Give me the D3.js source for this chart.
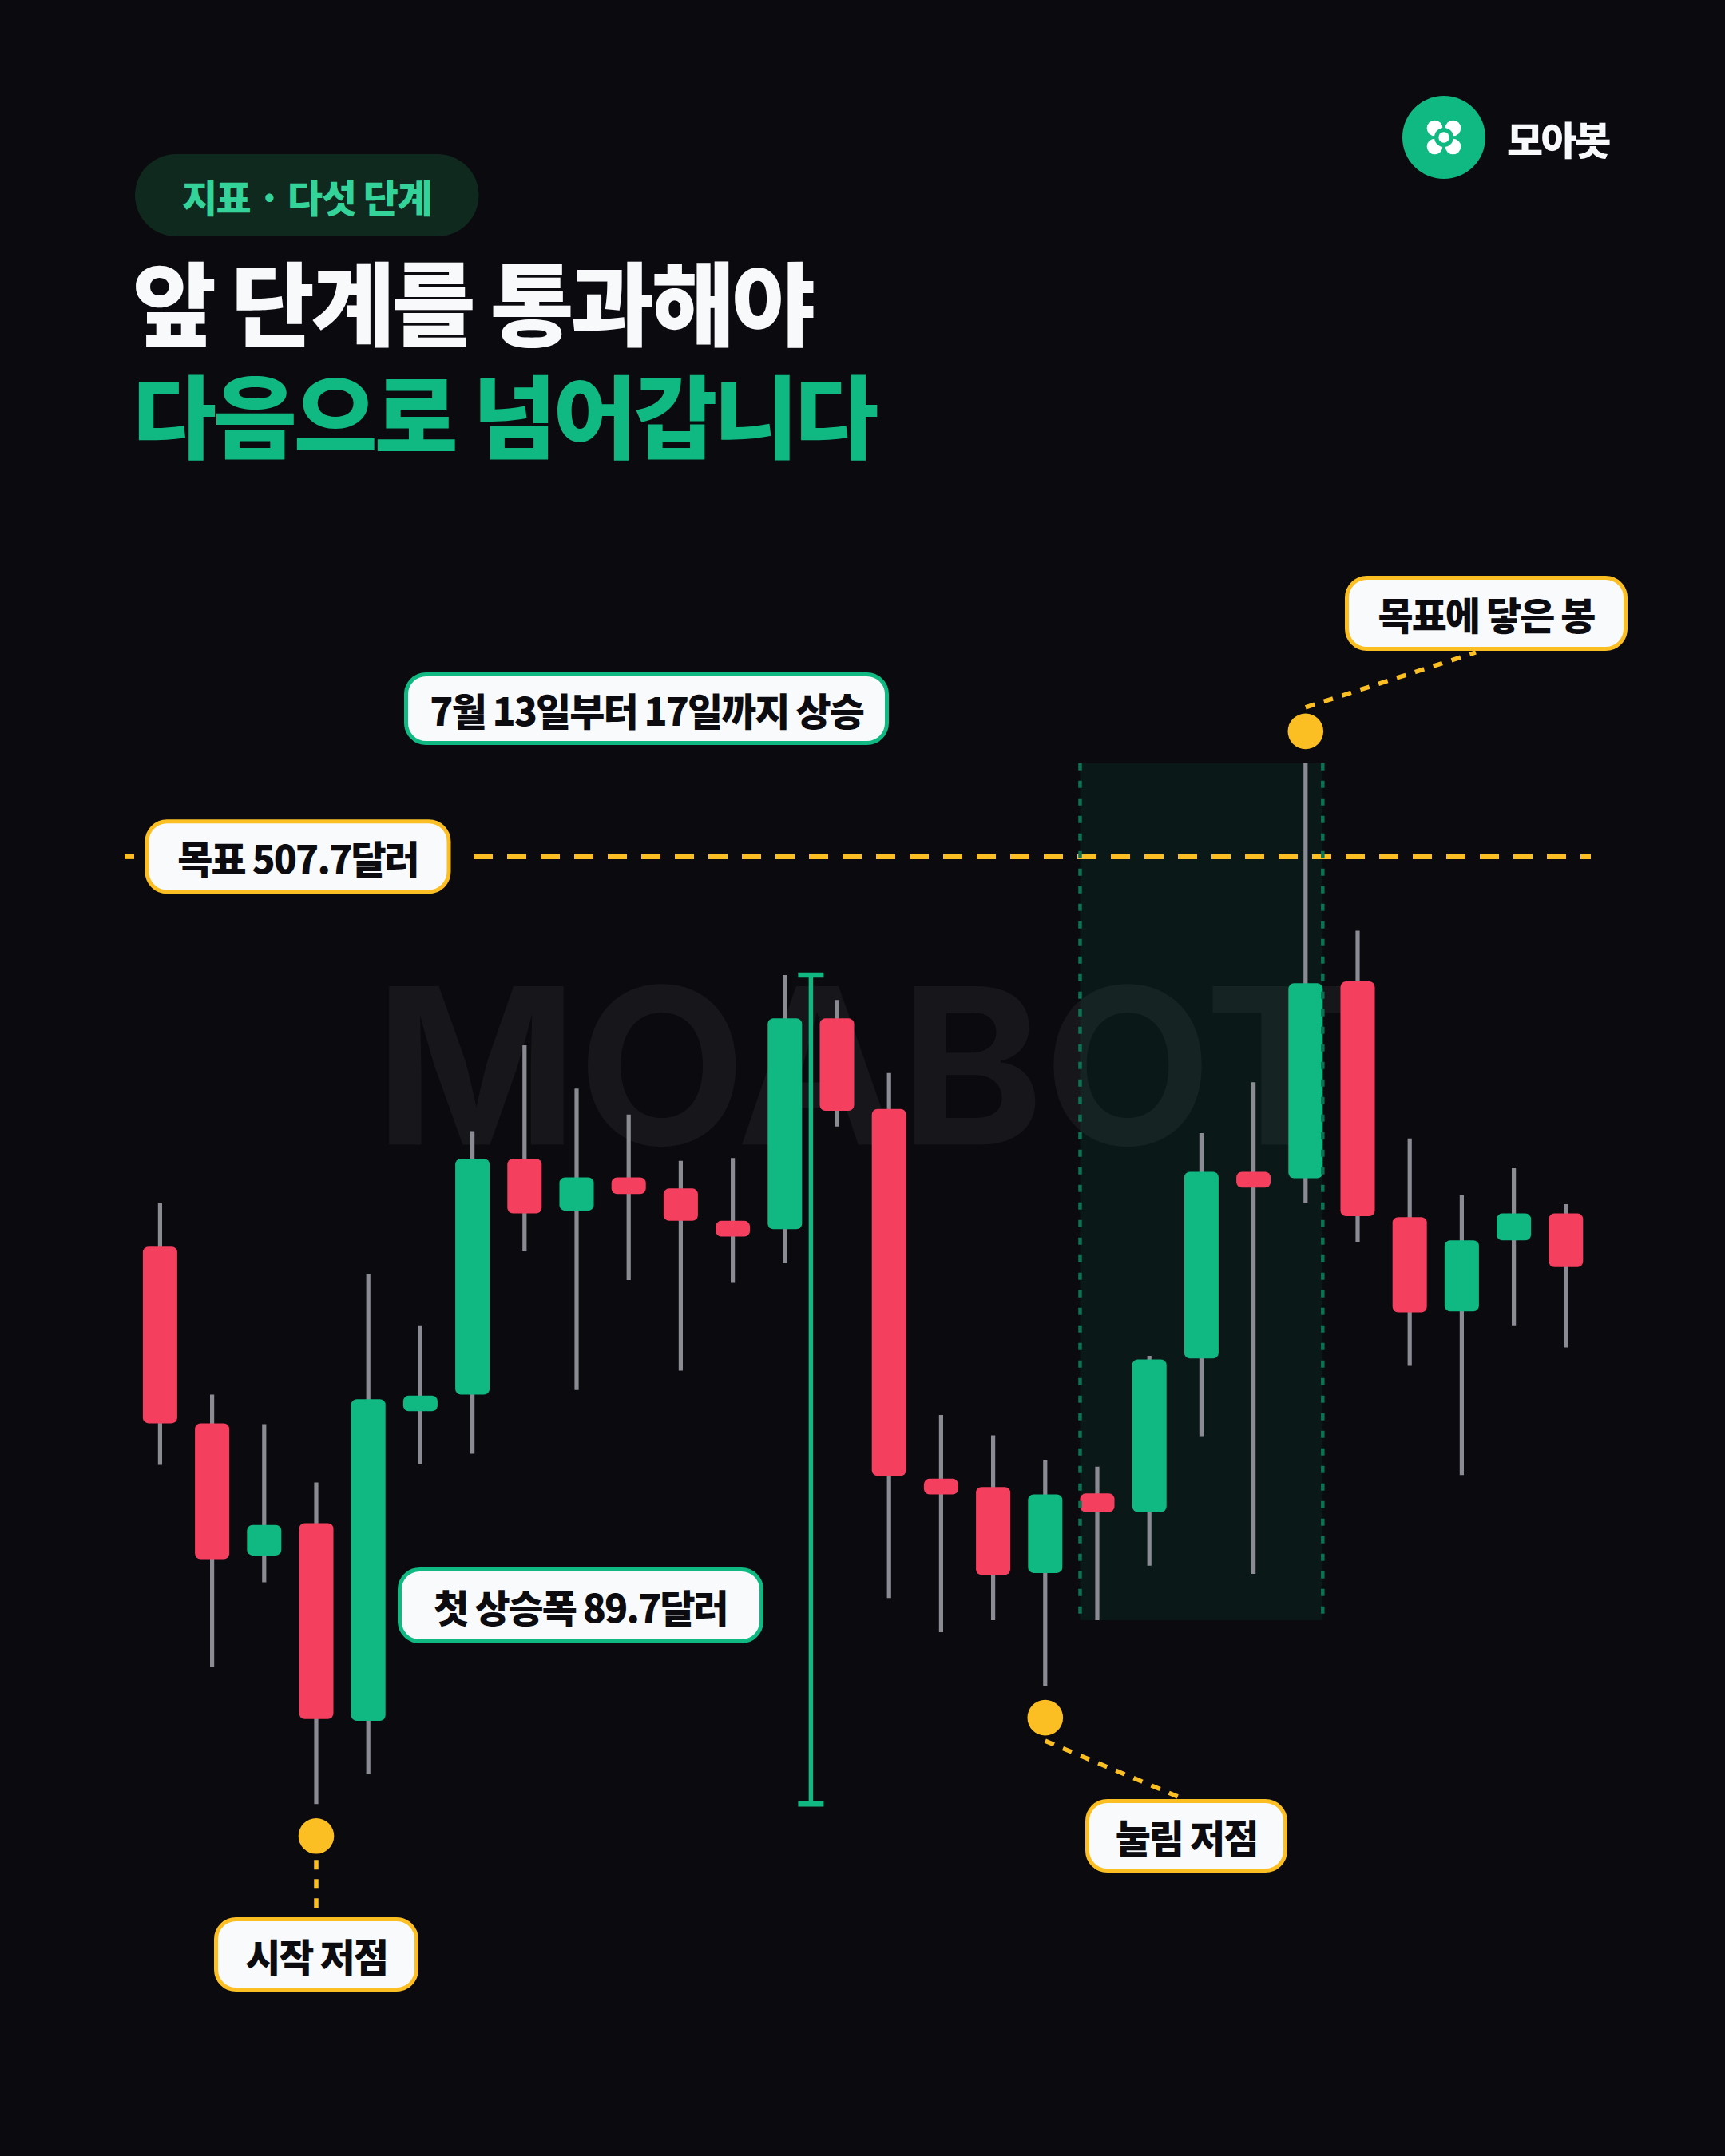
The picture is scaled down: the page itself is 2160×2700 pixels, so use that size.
<!DOCTYPE html>
<html>
<head>
<meta charset="utf-8">
<script src="https://cdn.jsdelivr.net/npm/d3@7/dist/d3.min.js"></script>
<style>
  html, body { margin: 0; padding: 0; background: #0a0a0f; }
  svg { display: block; }
</style>
</head>
<body>
<div id="chart"></div>
<script>
// ---------------- DATA ----------------
const categories = ["D1","D2","D3","D4","D5","D6","D7","D8","D9","D10","D11","D12","D13","D14",
                    "D15","D16","D17","D18","D19","D20","D21","D22","D23","D24","D25","D26","D27","D28"];
const opens  = [465.5, 446.4, 432.1, 435.6, 414.2, 447.7, 449.5, 475.0, 469.4, 473.0, 471.8, 468.3, 467.4, 490.2,
                480.4, 440.4, 439.5, 430.2, 438.8, 436.8, 453.4, 473.6, 472.9, 494.2, 468.7, 458.5, 466.2, 469.1];
const highs  = [470.2, 449.5, 446.3, 440.0, 462.5, 457.0, 478.0, 487.3, 482.6, 479.8, 474.8, 475.1, 494.9, 492.2,
                484.3, 447.3, 445.1, 442.4, 441.7, 453.7, 477.8, 483.3, 517.8, 499.7, 477.2, 471.1, 474.0, 470.1];
const lows   = [441.9, 420.0, 429.2, 405.2, 408.5, 442.0, 443.1, 465.0, 450.0, 461.9, 452.1, 461.6, 463.7, 478.5,
                427.5, 423.8, 425.1, 418.0, 425.1, 431.0, 445.0, 430.1, 470.2, 466.0, 452.6, 440.8, 457.0, 454.6];
const closes = [446.4, 431.7, 435.4, 414.4, 449.0, 449.4, 475.0, 469.1, 473.0, 471.2, 468.3, 466.6, 490.2, 480.2,
                440.7, 438.7, 430.0, 438.7, 436.8, 453.3, 473.6, 471.9, 494.0, 468.8, 458.4, 466.2, 469.1, 463.3];

const priceDomain = [400, 520];

// key candles (indices into categories)
const startIdx = 3;     // 시작 저점
const peakIdx = 12;     // 첫 상승 고점
const pullIdx = 17;     // 눌림 저점
const hitIdx = 22;      // 목표에 닿은 봉
const bandFrom = 18, bandTo = 22;

const tagText = "지표 · 다섯 단계";
const titleLines = ["앞 단계를 통과해야", "다음으로 넘어갑니다"];
const brandText = "모아봇";
const watermarkText = "MOABOT";

// ---------------- SETUP ----------------
const W = 2160, H = 2700;
const C = {
  bg: "#0a0a0f", green: "#10b981", red: "#f43f5e", wick: "#8b8b94",
  yellow: "#fbbf24", labelFill: "#f8fafc", ink: "#0b0b10"
};
const FONT = "'Noto Sans CJK KR', 'Noto Sans', sans-serif";

const svg = d3.select("#chart").append("svg")
  .attr("width", W).attr("height", H).attr("viewBox", `0 0 ${W} ${H}`);

svg.append("rect").attr("width", W).attr("height", H).attr("fill", C.bg);

const x = d3.scalePoint().domain(categories).range([200.4, 1960.8]);
const y = d3.scaleLinear().domain(priceDomain).range([2319.5, 930.4]);
const step = x.step();
const bw = step * 0.66;

const rise = +(highs[peakIdx] - lows[startIdx]).toFixed(1);
const target = +(lows[pullIdx] + rise).toFixed(1);

// ---------------- WATERMARK ----------------
svg.append("text")
  .attr("x", 1080).attr("y", 1433.5)
  .attr("text-anchor", "middle")
  .attr("font-family", "Inter, 'Liberation Sans', sans-serif")
  .attr("font-weight", 700).attr("font-size", 273)
  .attr("fill", "#ffffff").attr("fill-opacity", 0.05)
  .text(watermarkText);

// ---------------- HIGHLIGHT BAND ----------------
const bx0 = x(categories[bandFrom]) - bw / 2;
const bx1 = x(categories[bandTo]) + bw / 2;
const by0 = y(d3.max(highs.slice(bandFrom, bandTo + 1)));
const by1 = y(d3.min(lows.slice(bandFrom, bandTo + 1)));
svg.append("rect")
  .attr("x", bx0).attr("y", by0).attr("width", bx1 - bx0).attr("height", by1 - by0)
  .attr("fill", C.green).attr("fill-opacity", 0.085);

// ---------------- TARGET LINE ----------------
const ty = y(target);
svg.append("line").attr("x1", 156).attr("x2", 168).attr("y1", ty).attr("y2", ty)
  .attr("stroke", C.yellow).attr("stroke-width", 6.2);
svg.append("line").attr("x1", 593).attr("x2", 1992).attr("y1", ty).attr("y2", ty)
  .attr("stroke", C.yellow).attr("stroke-width", 6.2).attr("stroke-dasharray", "24 18");

// ---------------- BRACKET (first rise) ----------------
const brX = x(categories[peakIdx]) + step / 2;
const brTop = y(highs[peakIdx]), brBot = y(lows[startIdx]);
const br = svg.append("g").attr("stroke", C.green).attr("stroke-width", 5.5);
br.append("line").attr("x1", brX).attr("x2", brX).attr("y1", brTop).attr("y2", brBot);
br.append("line").attr("x1", brX - 16).attr("x2", brX + 16).attr("y1", brTop).attr("y2", brTop).attr("stroke-width", 6.5);
br.append("line").attr("x1", brX - 16).attr("x2", brX + 16).attr("y1", brBot).attr("y2", brBot).attr("stroke-width", 6.5);

// ---------------- CANDLES ----------------
const candles = categories.map((c, i) => ({ c, o: opens[i], h: highs[i], l: lows[i], cl: closes[i] }));
const cg = svg.append("g");
cg.selectAll("line.wick").data(candles).join("line").attr("class", "wick")
  .attr("x1", d => x(d.c)).attr("x2", d => x(d.c))
  .attr("y1", d => y(d.h)).attr("y2", d => y(d.l))
  .attr("stroke", C.wick).attr("stroke-width", 5.2);
cg.selectAll("rect.body").data(candles).join("rect").attr("class", "body")
  .attr("x", d => x(d.c) - bw / 2).attr("width", bw)
  .attr("y", d => y(Math.max(d.o, d.cl)))
  .attr("height", d => Math.max(4, Math.abs(y(d.o) - y(d.cl))))
  .attr("rx", 7).attr("ry", 7)
  .attr("fill", d => d.cl >= d.o ? C.green : C.red);

// band dashed edges (above candles)
svg.selectAll("line.bandEdge").data([bx0, bx1]).join("line").attr("class", "bandEdge")
  .attr("x1", d => d).attr("x2", d => d).attr("y1", by0).attr("y2", by1)
  .attr("stroke", "#0c7352").attr("stroke-width", 4.5).attr("stroke-dasharray", "9 13");

// ---------------- DOTS & CONNECTORS ----------------
const dots = [
  { cx: x(categories[startIdx]), cy: y(lows[startIdx]) + 40 },
  { cx: x(categories[pullIdx]), cy: y(lows[pullIdx]) + 40 },
  { cx: x(categories[hitIdx]), cy: y(highs[hitIdx]) - 40 }
];
const connectors = [
  { x1: dots[0].cx, y1: dots[0].cy + 30, x2: dots[0].cx, y2: 2392 },
  { x1: dots[1].cx, y1: dots[1].cy + 29, x2: 1475, y2: 2250 },
  { x1: dots[2].cx, y1: dots[2].cy - 30, x2: 1848, y2: 817 }
];
svg.selectAll("line.conn").data(connectors).join("line").attr("class", "conn")
  .attr("x1", d => d.x1).attr("y1", d => d.y1).attr("x2", d => d.x2).attr("y2", d => d.y2)
  .attr("stroke", C.yellow).attr("stroke-width", 5.5).attr("stroke-dasharray", "12 12");
svg.selectAll("circle.dot").data(dots).join("circle").attr("class", "dot")
  .attr("cx", d => d.cx).attr("cy", d => d.cy).attr("r", 22.3).attr("fill", C.yellow);

// ---------------- LABELS ----------------
const annotations = [
  { text: "7월 13일부터 17일까지 상승", cx: 809.5, cy: 887.5, w: 607, h: 91, color: C.green },
  { text: `목표 ${target.toFixed(1)}달러`, cx: 373, cy: ty, w: 383, h: 93, color: C.yellow },
  { text: "목표에 닿은 봉", cx: 1861, cy: 768, w: 354, h: 94, color: C.yellow },
  { text: `첫 상승폭 ${rise.toFixed(1)}달러`, cx: 727, cy: 2010.5, w: 458, h: 95, color: C.green },
  { text: "눌림 저점", cx: 1485.5, cy: 2299, w: 253, h: 92, color: C.yellow },
  { text: "시작 저점", cx: x(categories[startIdx]), cy: 2447.5, w: 256, h: 93, color: C.yellow }
];
const lg = svg.selectAll("g.label").data(annotations).join("g").attr("class", "label")
  .attr("transform", d => `translate(${d.cx},${d.cy})`);
lg.append("rect")
  .attr("x", d => -d.w / 2 + 2.5).attr("y", d => -d.h / 2 + 2.5)
  .attr("width", d => d.w - 5).attr("height", d => d.h - 5)
  .attr("rx", 25).attr("ry", 25)
  .attr("fill", C.labelFill).attr("stroke", d => d.color).attr("stroke-width", 5);
lg.append("text")
  .attr("text-anchor", "middle").attr("dominant-baseline", "central")
  .attr("font-family", FONT).attr("font-weight", 800).attr("font-size", 48)
  .attr("letter-spacing", -2)
  .attr("fill", C.ink)
  .text(d => d.text);

// ---------------- HEADER ----------------
svg.append("rect").attr("x", 169).attr("y", 193).attr("width", 430.5).attr("height", 103)
  .attr("rx", 51.5).attr("fill", "#10291f");
svg.append("text").attr("x", 384).attr("y", 244.5)
  .attr("text-anchor", "middle").attr("dominant-baseline", "central")
  .attr("font-family", FONT).attr("font-weight", 800).attr("font-size", 48)
  .attr("letter-spacing", -1.5).attr("fill", "#34d399").text(tagText);

svg.selectAll("text.title").data(titleLines).join("text").attr("class", "title")
  .attr("x", 166).attr("y", (d, i) => i === 0 ? 424 : 565)
  .attr("font-family", FONT).attr("font-weight", 800).attr("font-size", 114)
  .attr("letter-spacing", -4)
  .attr("fill", (d, i) => i === 0 ? "#f8f9fb" : C.green)
  .text(d => d);

// logo
const logo = svg.append("g").attr("transform", "translate(1808,172)");
logo.append("circle").attr("r", 52).attr("fill", C.green);
[[-1,-1],[1,-1],[-1,1],[1,1]].forEach(([sx, sy]) => {
  logo.append("circle").attr("cx", sx * 11.5).attr("cy", sy * 11.5).attr("r", 9.8).attr("fill", "#ffffff");
});
logo.append("circle").attr("r", 12).attr("fill", C.green);
logo.append("circle").attr("r", 6.7).attr("fill", "#ffffff");
svg.append("text").attr("x", 1887).attr("y", 172)
  .attr("dominant-baseline", "central")
  .attr("font-family", FONT).attr("font-weight", 800).attr("font-size", 49)
  .attr("letter-spacing", -2.5).attr("fill", "#f8f9fb").text(brandText);
</script>
</body>
</html>
